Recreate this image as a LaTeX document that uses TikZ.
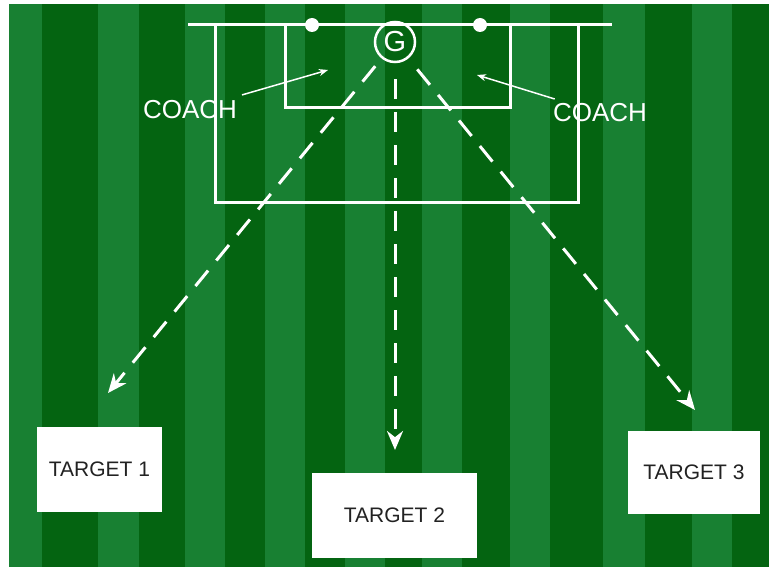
\documentclass[tikz,border=0pt]{standalone}
\usepackage{fontspec}
\setmainfont{Liberation Sans}
\usepackage{xcolor}
\usetikzlibrary{arrows.meta, positioning}
\definecolor{pitchlight}{RGB}{24,128,50}
\definecolor{pitchdark}{RGB}{4,100,17}
\definecolor{boxtext}{RGB}{34,34,34}

\begin{document}
\begin{tikzpicture}[
    x=1pt, y=-1pt,
    line/.style={white, line width=3pt},
    target/.style={fill=white, text=boxtext, font=\fontsize{21}{24}\selectfont},
    coach/.style={text=white, font=\fontsize{26}{30}\selectfont, inner sep=4pt},
    pass/.style={white, line width=3pt, dash pattern=on 20pt off 13pt, -{Stealth[length=19pt, width=16pt]}},
    point/.style={white, line width=1.5pt, -{Stealth[length=9pt, width=7pt]}},
    >=Stealth
]
    \useasboundingbox (0,0) rectangle (769,567);

    % Pitch
    \fill[pitchlight] (9,4) rectangle (769,567);
    \foreach \a/\b in {42/98, 139/185, 225/265, 305/345, 385/422, 462/510, 550/603, 645/692, 732/769}
        \fill[pitchdark] (\a,4) rectangle (\b,567);

    % Goal line and boxes
    \draw[line] (188,25) -- (612,25);
    \draw[line] (215,25) -- (215,203) -- (578,203) -- (578,25);
    \draw[line] (285,25) -- (285,108) -- (510,108) -- (510,25);
    \fill[white] (312,25) circle (7);
    \fill[white] (480,25) circle (7);

    % Goalkeeper
    \node[draw=white, line width=2.5pt, circle, minimum size=40pt, inner sep=0pt,
          text=white, font=\fontsize{29}{30}\selectfont] (g) at (395,42) {G};

    % Targets
    \node[target, minimum width=125pt, minimum height=85pt] (t1) at (99.5,469.5) {TARGET 1};
    \node[target, minimum width=165pt, minimum height=85pt] (t2) at (394.5,515.5) {TARGET 2};
    \node[target, minimum width=132pt, minimum height=83pt] (t3) at (694,472.5) {TARGET 3};

    \coordinate (tip1) at (108,393);
    \coordinate (tip2) at (395,450);
    \coordinate (tip3) at (695,410);

    % Passes
    \draw[pass, shorten <=10pt] (g) -- (tip1);
    \draw[pass, shorten <=16pt] (g) -- (tip2);
    \draw[pass, shorten <=14pt] (g) -- (tip3);

    % Coaches
    \node[coach] (c1) at (190,110) {COACH};
    \node[coach] (c2) at (600,113) {COACH};
    \coordinate (c1tip) at (328,70);
    \coordinate (c2tip) at (477,75);
    \draw[point, shorten <=6pt] (c1) -- (c1tip);
    \draw[point, shorten <=2pt] (c2) -- (c2tip);
\end{tikzpicture}
\end{document}
